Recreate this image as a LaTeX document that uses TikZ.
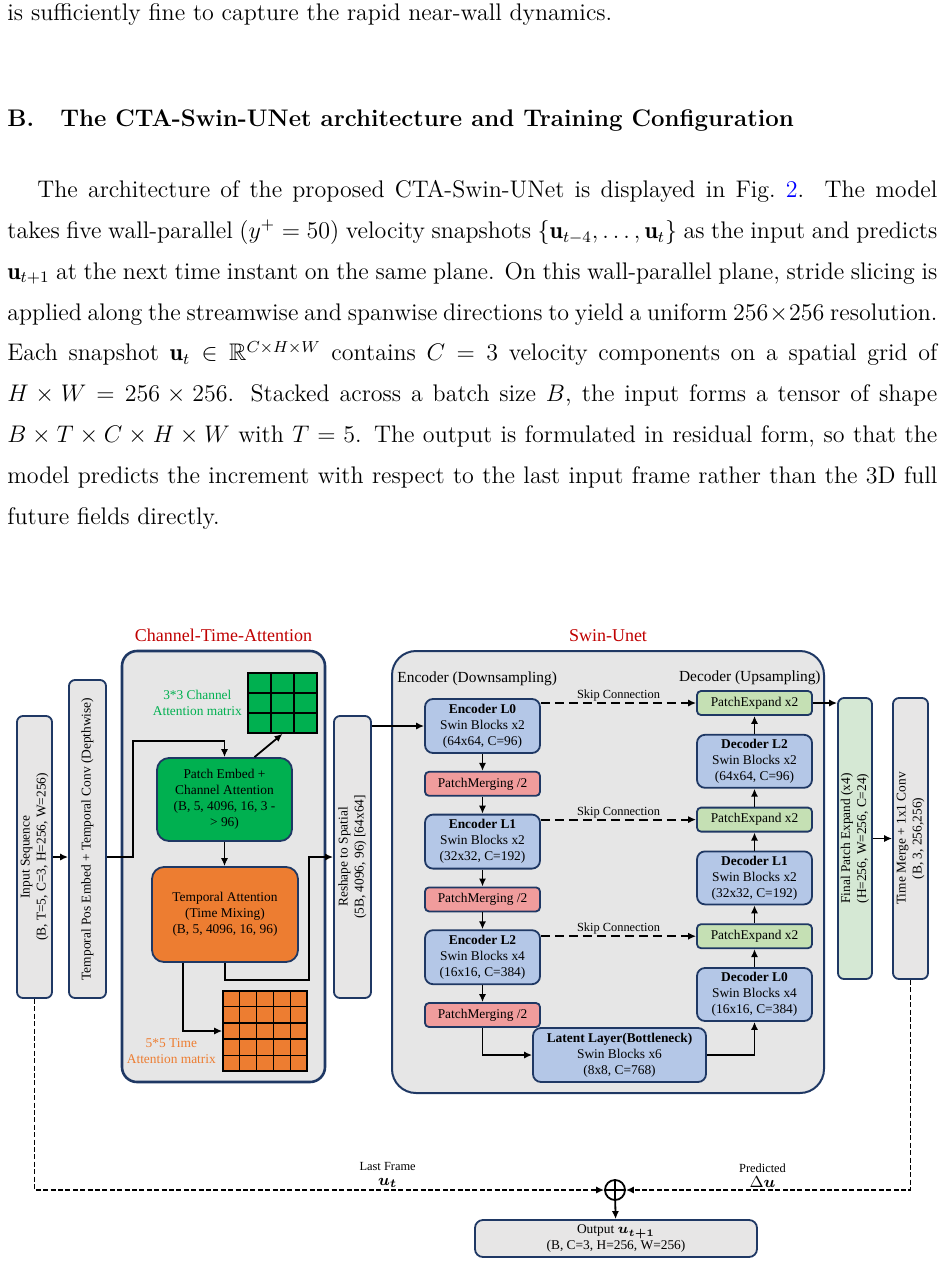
\documentclass[tikz,border=0pt]{standalone}
\usepackage{amsmath, amssymb}
\usepackage{xcolor}
\usepackage{graphicx}
\usepackage{fontspec}
\newfontfamily\tnr{Liberation Serif}
\usepackage{tikz}
\usetikzlibrary{arrows.meta,positioning,calc}

\definecolor{navy}{HTML}{1F3864}
\definecolor{panelgrey}{HTML}{E6E6E6}
\definecolor{boxgrey}{HTML}{E7E6E6}
\definecolor{attgreen}{HTML}{00B050}
\definecolor{attorange}{HTML}{ED7D31}
\definecolor{swinblue}{HTML}{B4C7E7}
\definecolor{mergepink}{HTML}{F09C9C}
\definecolor{expandgreen}{HTML}{C5E0B4}
\definecolor{finalgreen}{HTML}{D5E8D4}
\definecolor{titlered}{HTML}{C00000}
\definecolor{linkblue}{HTML}{0000FF}

\newcommand{\vlabel}[1]{\rotatebox{90}{\begin{tabular}{@{}c@{}}#1\end{tabular}}}
\newcommand{\gridlines}[3]{%
  \foreach \k in {#3}{%
    \draw[line width=0.8pt] ($(#1.north west)!\k/#2!(#1.north east)$) -- ($(#1.south west)!\k/#2!(#1.south east)$);
    \draw[line width=0.8pt] ($(#1.north west)!\k/#2!(#1.south west)$) -- ($(#1.north east)!\k/#2!(#1.south east)$);
  }}

\begin{document}
\begin{tikzpicture}[
    x=0.5pt, y=-0.5pt,
    font=\tnr\fontsize{6.7}{8}\selectfont,
    bodytext/.style={anchor=base west, inner sep=0pt, font=\normalfont\fontsize{12}{14}\selectfont},
    sectext/.style={anchor=base west, inner sep=0pt, font=\normalfont\bfseries\fontsize{12}{14}\selectfont},
    paneltitle/.style={inner sep=0pt, text=titlered, font=\tnr\fontsize{9}{11}\selectfont},
    sidelabel/.style={inner sep=0pt, font=\tnr\fontsize{7.7}{9}\selectfont},
    panel/.style={draw=navy, fill=panelgrey, inner sep=0pt},
    tallbox/.style={draw=navy, fill=boxgrey, line width=0.9pt, rounded corners=3pt,
      inner sep=0pt, minimum width=17.5pt},
    attbox/.style={draw=navy, line width=0.9pt, rounded corners=6pt, align=center, inner sep=1pt},
    attmat/.style={draw=black, line width=0.8pt, inner sep=0pt},
    swinbox/.style={draw=navy, fill=swinblue, line width=0.9pt, rounded corners=4pt,
      align=center, minimum width=57.5pt, minimum height=27pt, inner sep=1pt},
    mergebox/.style={draw=navy, fill=mergepink, line width=0.9pt, rounded corners=2pt,
      minimum width=57.5pt, minimum height=12pt, inner sep=1pt},
    expandbox/.style={mergebox, fill=expandgreen},
    sumnode/.style={circle, draw, line width=0.9pt, minimum size=10pt, inner sep=0pt,
      path picture={\draw[line width=0.7pt] (path picture bounding box.north) -- (path picture bounding box.south)
        (path picture bounding box.west) -- (path picture bounding box.east);}},
    arrow/.style={-{Latex[length=4pt,width=3.6pt]}, line width=0.9pt},
    skip/.style={arrow, dash pattern=on 4.5pt off 2.5pt},
    resid/.style={arrow, line width=0.8pt, dash pattern=on 2.5pt off 1.2pt},
    smalltext/.style={inner sep=1pt, align=center, font=\tnr\fontsize{6.2}{7.5}\selectfont}
  ]
    \fill[white] (0,0) rectangle (945,1264);
    \useasboundingbox (0,0) rectangle (945,1264);

    % page text
    \node[bodytext] (txt0) at (7,20) {is sufficiently fine to capture the rapid near-wall dynamics.};
    \node[sectext] (secnum) at (7,126) {B.};
    \node[sectext] (sectitle) at (60,126) {The CTA-Swin-UNet architecture and Training Configuration};
    \node[bodytext] (txt1) at (37,197.7) {\makebox[450pt][s]{The architecture of the proposed CTA-Swin-UNet is displayed in Fig.~\textcolor{linkblue}{2}.\ \ The model}};
    \node[bodytext] (txt2) at (7,238.5) {\makebox[465pt][s]{takes five wall-parallel $(y^+ = 50)$ velocity snapshots $\{\mathbf{u}_{t-4}, \ldots, \mathbf{u}_t\}$ as the input and predicts}};
    \node[bodytext] (txt3) at (7,279.3) {\makebox[465pt][s]{$\mathbf{u}_{t+1}$ at the next time instant on the same plane. On this wall-parallel plane, stride slicing is}};
    \node[bodytext] (txt4) at (7,320.1) {\makebox[465pt][s]{applied along the streamwise and spanwise directions to yield a uniform $256 \times 256$ resolution.}};
    \node[bodytext] (txt5) at (7,360.9) {\makebox[465pt][s]{Each snapshot $\mathbf{u}_t \in \mathbb{R}^{C \times H \times W}$ contains $C = 3$ velocity components on a spatial grid of}};
    \node[bodytext] (txt6) at (7,401.7) {\makebox[465pt][s]{$H \times W = 256 \times 256$. Stacked across a batch size $B$, the input forms a tensor of shape}};
    \node[bodytext] (txt7) at (7,442.5) {\makebox[465pt][s]{$B \times T \times C \times H \times W$ with $T = 5$. The output is formulated in residual form, so that the}};
    \node[bodytext] (txt8) at (7,483.3) {\makebox[465pt][s]{model predicts the increment with respect to the last input frame rather than the 3D full}};
    \node[bodytext] (txt9) at (7,524.1) {future fields directly.};

    % panels
    \node[panel, line width=1.3pt, rounded corners=7.5pt, minimum width=101.5pt, minimum height=215.5pt] (cta) at (223.5,866.5) {};
    \node[paneltitle, above=4pt of cta] {Channel-Time-Attention};
    \node[panel, line width=1pt, rounded corners=12pt, minimum width=216pt, minimum height=221pt] (swin) at (608,872) {};
    \node[paneltitle, above=4pt of swin] {Swin-Unet};
    \node[sidelabel, anchor=west] at (397,679) {Encoder (Downsampling)};
    \node[sidelabel, anchor=east] at (821,678) {Decoder (Upsampling)};

    % channel-time-attention
    \node[tallbox, minimum height=141pt] (inseq) at (34.5,857) {\vlabel{Input Sequence\\(B, T=5, C=3, H=256, W=256)}};
    \node[tallbox, minimum width=18.5pt, minimum height=159pt] (tpe) at (87.5,839) {\vlabel{Temporal Pos Embed + Temporal Conv (Depthwise)}};
    \node[attmat, fill=attgreen, minimum width=34.5pt, minimum height=30pt] (cmat) at (282.5,703) {};
    \gridlines{cmat}{3}{1,2}
    \node[left=2.5pt of cmat, align=center, text=attgreen, inner sep=0pt] (cmatlabel) {3*3 Channel\\Attention matrix};
    \node[attbox, fill=attgreen, minimum width=67.5pt, minimum height=41.5pt] (pemb) at (224.5,799.5)
      {Patch Embed +\\Channel Attention\\(B, 5, 4096, 16, 3 -\\> 96)};
    \node[attbox, fill=attorange, minimum width=73pt, minimum height=47.5pt] (tatt) at (225,914.5)
      {Temporal Attention\\(Time Mixing)\\(B, 5, 4096, 16, 96)};
    \node[attmat, fill=attorange, minimum width=42pt, minimum height=40pt] (tmat) at (265,1031) {};
    \gridlines{tmat}{5}{1,2,3,4}
    \node[left=3pt of tmat, yshift=-10pt, align=center, text=attorange, inner sep=0pt] (tmatlabel) {5*5 Time\\Attention matrix};
    \node[tallbox, minimum width=18.5pt, minimum height=141pt] (reshape) at (352.5,857) {\vlabel{Reshape to Spatial\\(5B, 4096, 96) [64x64]}};

    % swin-unet
    \node[swinbox] (enc0) at (482.5,726) {\textbf{Encoder L0}\\Swin Blocks x2\\(64x64, C=96)};
    \node[mergebox, below=8.5pt of enc0] (pm0) {PatchMerging /2};
    \node[swinbox, below=8.5pt of pm0] (enc1) {\textbf{Encoder L1}\\Swin Blocks x2\\(32x32, C=192)};
    \node[mergebox, below=8.5pt of enc1] (pm1) {PatchMerging /2};
    \node[swinbox, below=8.5pt of pm1] (enc2) {\textbf{Encoder L2}\\Swin Blocks x4\\(16x16, C=384)};
    \node[mergebox, below=8.5pt of enc2] (pm2) {PatchMerging /2};
    \node[swinbox, minimum width=86.5pt] (latent) at (619.5,1055) {\textbf{Latent Layer(Bottleneck)}\\Swin Blocks x6\\(8x8, C=768)};
    \node[swinbox, minimum height=26.5pt] (dec0) at (754.5,994.5) {\textbf{Decoder L0}\\Swin Blocks x4\\(16x16, C=384)};
    \node[expandbox, above=9pt of dec0] (pe0) {PatchExpand x2};
    \node[swinbox, minimum height=26.5pt, above=9pt of pe0] (dec1) {\textbf{Decoder L1}\\Swin Blocks x2\\(32x32, C=192)};
    \node[expandbox, above=9pt of dec1] (pe1) {PatchExpand x2};
    \node[swinbox, minimum height=26.5pt, above=9pt of pe1] (dec2) {\textbf{Decoder L2}\\Swin Blocks x2\\(64x64, C=96)};
    \node[expandbox, above=9pt of dec2] (pe2) {PatchExpand x2};
    \node[tallbox, fill=finalgreen, minimum width=17pt, minimum height=140.5pt] (fpe) at (855,838.5) {\vlabel{Final Patch Expand (x4)\\(H=256, W=256, C=24)}};
    \node[tallbox, minimum height=140.5pt] (tmerge) at (910.5,838.5) {\vlabel{Time Merge + 1x1 Conv\\(B, 3, 256,256)}};

    % residual output
    \node[sumnode] (sum) at (615,1190) {};
    \node[tallbox, rounded corners=4pt, minimum width=141pt, minimum height=18.5pt, align=center] (output) at (616,1238.5)
      {Output {\fontsize{7.5}{8}\selectfont$\boldsymbol{u}_{\boldsymbol{t+1}}$}\\(B, C=3, H=256, W=256)};

    \draw[arrow] (inseq.east) -- (inseq.east -| tpe.west);
    \draw[arrow] (tpe.east |- inseq.east) -- ++(13pt,0) -- ++(0,58pt) -| (pemb.north);
    \draw[arrow] ($(pemb.north)+(15pt,0)$) -- (cmat.south);
    \draw[arrow] (pemb.south) -- (pemb.south |- tatt.north);
    \draw[arrow] ($(tatt.south)+(-21pt,0)$) |- (tmat.west);
    \draw[arrow] (tatt.south) -- ++(0,-8.5pt) -- ++(42pt,0) |- (reshape.west);
    \draw[arrow] (reshape.east |- enc0.west) -- (enc0.west);
    \foreach \a/\b in {enc0/pm0, pm0/enc1, enc1/pm1, pm1/enc2, enc2/pm2}
      \draw[arrow] (\a) -- (\b);
    \draw[arrow] (pm2.south) |- (latent.west);
    \draw[arrow] (latent.east) -| (dec0.south);
    \foreach \a/\b in {dec0/pe0, pe0/dec1, dec1/pe1, pe1/dec2, dec2/pe2}
      \draw[arrow] (\a) -- (\b);
    \foreach \a/\b in {enc0/pe2, enc1/pe1, enc2/pe0}
      \draw[skip] (\b.west -| \a.east) -- node[smalltext, above, inner sep=0.5pt] {Skip Connection} (\b.west);
    \draw[arrow] (pe2.east) -- (pe2.east -| fpe.west);
    \draw[arrow] (fpe) -- (tmerge);
    \draw[resid] (inseq.south) |- node[pos=0.81, above, smalltext]
      {Last Frame\\{\fontsize{8}{8}\selectfont$\boldsymbol{u}_{\boldsymbol{t}}$}} (sum.west);
    \draw[resid] (tmerge.south) |- node[pos=0.76, above, smalltext]
      {Predicted\\{\fontsize{8}{8}\selectfont$\Delta\boldsymbol{u}$}} (sum.east);
    \draw[arrow] (sum) -- (output);
  \end{tikzpicture}
\end{document}
